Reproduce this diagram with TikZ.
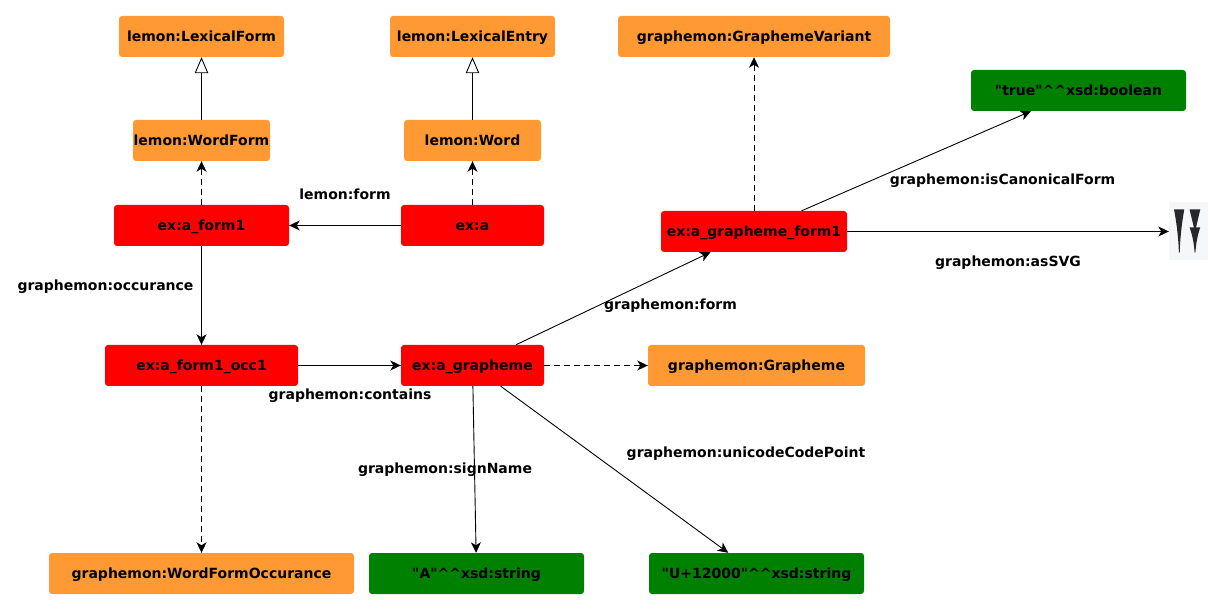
\documentclass[tikz,border=0pt]{standalone}
\usepackage{fontspec}
\newfontfamily\lblfont{DejaVu Sans}
\usetikzlibrary{arrows.meta}
\definecolor{cls}{HTML}{FF9933}
\definecolor{res}{HTML}{FF0000}
\definecolor{lit}{HTML}{008000}
\definecolor{imgbg}{HTML}{F6F7F8}
\definecolor{wedge}{HTML}{26282B}
\tikzset{
  x=1pt,y=-1pt,
  txt/.style={font=\lblfont\fontsize{14}{16}\selectfont\bfseries,text=black,inner sep=0pt,text height=12.5pt,text depth=2.5pt},
  box/.style={txt,rounded corners=3pt,draw=none,minimum height=41pt},
  clsbox/.style={box,fill=cls},
  resbox/.style={box,fill=res},
  litbox/.style={box,fill=lit},
  lab/.style={txt},
  conn/.style={draw=black,line width=0.9pt,-{Stealth[length=10.5pt,width=10pt,inset=3pt]}},
  dconn/.style={conn,dash pattern=on 6pt off 4pt},
  sub/.style={draw=black,line width=0.9pt,-{Triangle[open,length=16pt,width=13.5pt,fill=white]}},
}
\begin{document}
\begin{tikzpicture}
\useasboundingbox (0,0) rectangle (1224,609);
% classes
\node[clsbox,minimum width=165pt] (lexform) at (201.5,36.5) {lemon:LexicalForm};
\node[clsbox,minimum width=165pt] (lexentry) at (472.5,36.5) {lemon:LexicalEntry};
\node[clsbox,minimum width=272pt] (variant) at (754,36.5) {graphemon:GraphemeVariant};
\node[clsbox,minimum width=137pt] (wordform) at (201.5,140.5) {lemon:WordForm};
\node[clsbox,minimum width=137pt] (word) at (472.5,140.5) {lemon:Word};
\node[clsbox,minimum width=217pt] (grapheme) at (756.5,365.5) {graphemon:Grapheme};
\node[clsbox,minimum width=305pt] (occclass) at (201.5,573.5) {graphemon:WordFormOccurance};
% resources
\node[resbox,minimum width=175pt] (aform) at (201.5,225.5) {ex:a\_form1};
\node[resbox,minimum width=143pt] (a) at (472.5,225.5) {ex:a};
\node[resbox,minimum width=186pt] (gform) at (754,231.5) {ex:a\_grapheme\_form1};
\node[resbox,minimum width=193pt] (occ) at (201.5,365.5) {ex:a\_form1\_occ1};
\node[resbox,minimum width=143pt] (agraph) at (472.5,365.5) {ex:a\_grapheme};
% literals
\node[litbox,minimum width=215pt] (true) at (1078.5,90.5) {"true"\textasciicircum\textasciicircum xsd:boolean};
\node[litbox,minimum width=215pt] (lita) at (476.5,573.5) {"A"\textasciicircum\textasciicircum xsd:string};
\node[litbox,minimum width=215pt] (litu) at (756.5,573.5) {"U+12000"\textasciicircum\textasciicircum xsd:string};
% image
\node[fill=imgbg,minimum width=39pt,minimum height=58pt,inner sep=0pt] (svg) at (1188.5,231) {};
\fill[wedge] (1174,209.3) -- (1184.3,209.3) .. controls (1181.5,225) and (1180,240) .. (1179.7,252.7) -- (1178.9,252.7) .. controls (1178.5,240) and (1177,225) .. cycle;
\fill[wedge] (1189.5,209.3) -- (1200.3,209.3) -- (1195,232) -- cycle;
\fill[wedge] (1189.5,227.3) -- (1200.3,227.3) .. controls (1197.5,235) and (1195.8,245) .. (1195.4,252.7) -- (1194.6,252.7) .. controls (1194.2,245) and (1192.5,235) .. cycle;
% connectors
\draw[sub] (wordform) -- (lexform);
\draw[sub] (word) -- (lexentry);
\draw[dconn] (aform) -- (wordform);
\draw[dconn] (a) -- (word);
\draw[dconn] (gform) -- (variant);
\draw[conn] (a) -- (aform);
\draw[conn] (aform) -- (occ);
\draw[conn] (occ) -- (agraph);
\draw[dconn] (occ) -- (occclass);
\draw[dconn] (agraph) -- (grapheme);
\draw[conn] (agraph) -- (gform);
\draw[conn] (agraph) -- (lita);
\draw[conn] (agraph) -- (litu);
\draw[conn] (gform) -- (true);
\draw[conn] (gform) -- (gform.center -| svg.west);
% labels
\node[lab] (l1) at (345,195) {lemon:form};
\node[lab] (l2) at (105.5,286) {graphemon:occurance};
\node[lab] (l3) at (350,395) {graphemon:contains};
\node[lab] (l4) at (445,469) {graphemon:signName};
\node[lab] (l5) at (670.5,305) {graphemon:form};
\node[lab] (l6) at (746,452) {graphemon:unicodeCodePoint};
\node[lab] (l7) at (1002.5,180) {graphemon:isCanonicalForm};
\node[lab] (l8) at (1008,262) {graphemon:asSVG};
\end{tikzpicture}
\end{document}
